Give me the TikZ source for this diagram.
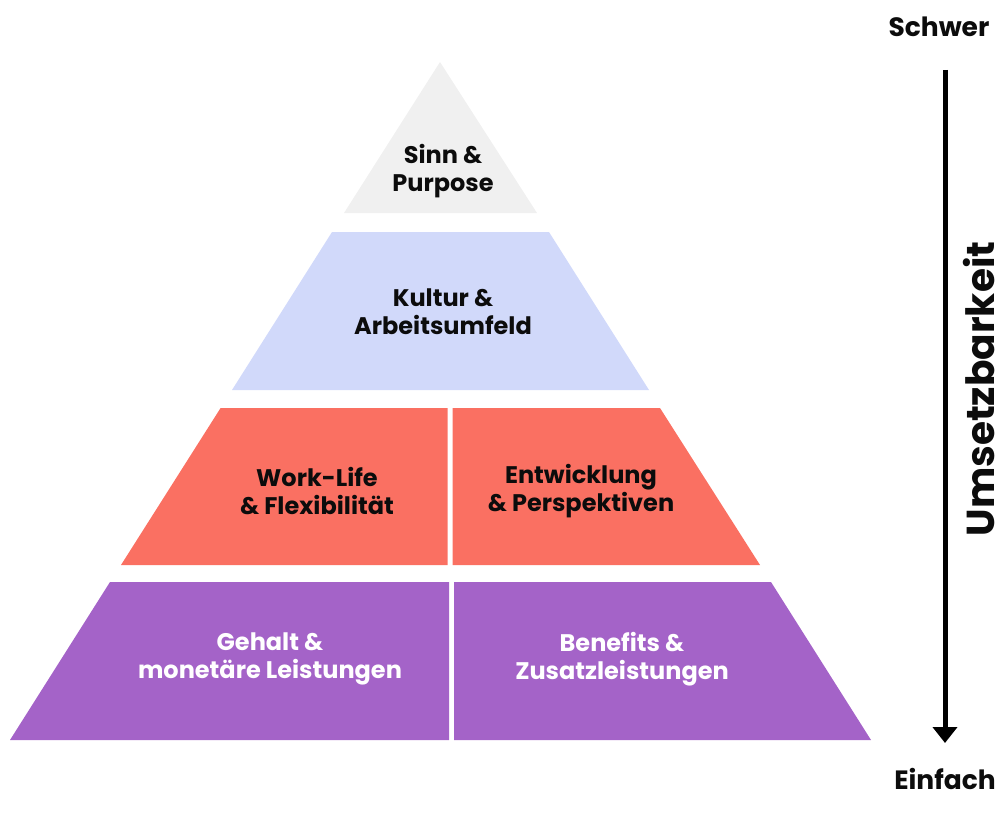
\documentclass[tikz,border=0pt]{standalone}
\usepackage{fontspec}
\setmainfont{Poppins}[BoldFont={* Bold}]
\usepackage{tikz}
\usetikzlibrary{arrows.meta}
\usetikzlibrary{positioning}

\definecolor{sinngray}{RGB}{240,240,240}
\definecolor{kulturblue}{RGB}{209,217,250}
\definecolor{workred}{RGB}{250,112,98}
\definecolor{gehaltlila}{RGB}{164,99,200}
\definecolor{textdark}{RGB}{12,12,12}

\begin{document}
\begin{tikzpicture}[
    x=1pt, y=-1pt,
    node distance=18pt and 18pt,
    every node/.style={font=\bfseries\fontsize{24}{28}\selectfont, align=center, text=textdark},
    label/.style={font=\bfseries\fontsize{26.5}{30}\selectfont},
    axis/.style={font=\bfseries\fontsize{39}{44}\selectfont, inner sep=0pt}]

\useasboundingbox (0,0) rectangle (1002,816);

% Pyramid
\fill[sinngray] (440,62) -- (537,213) -- (344,213) -- cycle;
\fill[kulturblue] (332,232) -- (549,232) -- (649,390) -- (232,390) -- cycle;
\fill[workred] (220.6,408) -- (447.5,408) -- (447.5,565) -- (121,565) -- cycle;
\fill[workred] (452.5,408) -- (660,408) -- (760,565) -- (452.5,565) -- cycle;
\fill[gehaltlila] (110,582) -- (449,582) -- (449,740) -- (10,740) -- cycle;
\fill[gehaltlila] (454,582) -- (771,582) -- (871,740) -- (454,740) -- cycle;

% Nodes
\node (sinn) at (443,171) {Sinn \&\\Purpose};
\node (kultur) at (443,312) {Kultur \&\\Arbeitsumfeld};
\node (worklife) at (317,491) {Work-Life\\\& Flexibilität};
\node (entwicklung) at (581,491) {Entwicklung\\\& Perspektiven};
\node[text=white] (gehalt) at (270,659) {Gehalt \&\\monetäre Leistungen};
\node[text=white] (benefits) at (622,659) {Benefits \&\\Zusatzleistungen};

\coordinate (oben) at (945,70);
\coordinate (unten) at (945,743);
\node[label, above=30pt of oben, xshift=-6pt] (schwer) {Schwer};
\node[label, below=22pt of unten] (einfach) {Einfach};
\node[axis, rotate=90, anchor=base] (umsetz) at (994,389) {Umsetzbarkeit};

% Arrows
\draw[line width=5pt, -{Triangle[width=24pt, length=16pt]}] (oben) -- (unten);
\end{tikzpicture}
\end{document}
